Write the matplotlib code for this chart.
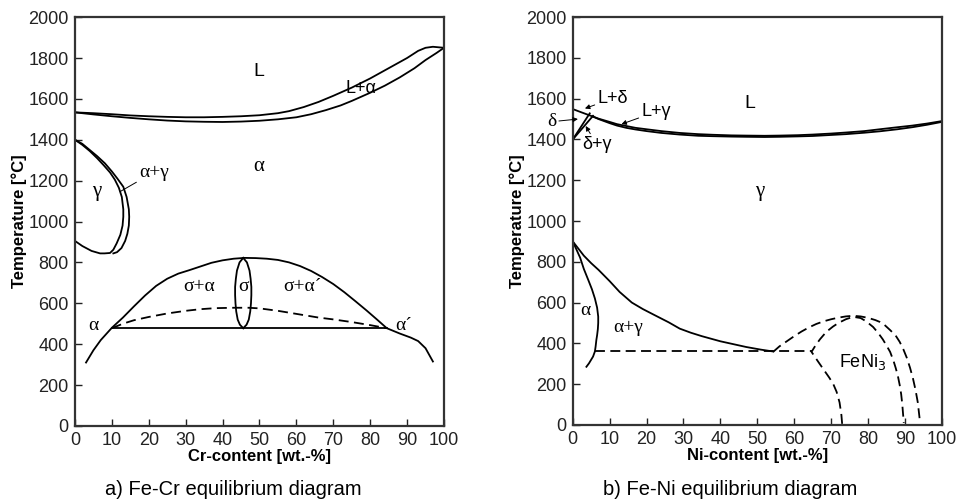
import matplotlib.pyplot as plt

plt.rcParams['font.family'] = ['Liberation Sans', 'DejaVu Sans']

# ---- Fe-Cr ----
cr_liq_x = [0, 5, 10, 15, 20, 25, 30, 35, 40, 45, 50, 55, 58, 62, 66, 70, 75, 80, 85, 90, 93, 95, 97, 100]
cr_liq_y = [1534, 1530, 1525, 1519, 1515, 1512, 1510, 1510, 1512, 1515, 1520, 1530, 1540, 1560, 1585,
            1615, 1655, 1700, 1750, 1800, 1835, 1850, 1855, 1850]
cr_sol_x = [0, 5, 10, 15, 20, 25, 30, 35, 40, 45, 50, 55, 60, 64, 68, 72, 75, 80, 84, 88, 92, 95, 98, 100]
cr_sol_y = [1534, 1524, 1515, 1507, 1500, 1494, 1490, 1488, 1487, 1489, 1493, 1500, 1510, 1525, 1545,
            1568, 1590, 1630, 1665, 1705, 1750, 1790, 1825, 1850]

cr_gam_in_x = [0, 2, 4, 6, 7.8, 9.5, 10.8, 11.9, 12.7, 13.1, 13.1, 12.9, 12.3, 11.3, 10.4, 9.5, 8, 6.8,
               4.5, 2, 0]
cr_gam_in_y = [1400, 1375, 1345, 1310, 1275, 1240, 1205, 1165, 1120, 1060, 1023, 980, 935, 893, 862,
               846, 844, 844, 856, 880, 905]
cr_gam_out_x = [0, 2, 4, 6, 8.1, 10, 11.5, 13.1, 14, 14.6, 14.7, 14.6, 14.2, 13.6, 12.6, 11.4, 10.4]
cr_gam_out_y = [1400, 1380, 1350, 1320, 1285, 1245, 1210, 1170, 1120, 1060, 1023, 980, 940, 905, 870,
                850, 844]

cr_dome_x = [3, 5, 7, 10, 13, 16, 19, 22, 25, 28, 31, 34, 37, 40, 43, 46, 49, 52, 55, 58, 61, 64, 67,
             70, 73, 76, 79, 82, 84.5, 88, 91, 93, 95, 97]
cr_dome_y = [310, 370, 420, 480, 530, 585, 638, 685, 720, 745, 762, 780, 798, 810, 818, 822, 821, 818,
             812, 800, 782, 758, 728, 694, 654, 610, 565, 518, 478, 452, 432, 415, 380, 315]
cr_eut_x = [10, 84.5]
cr_eut_y = [478, 478]
cr_spin_x = [10, 13, 16, 20, 25, 30, 34, 38, 43, 47, 50, 55, 61, 66, 70, 75, 80, 84.5]
cr_spin_y = [478, 500, 517, 533, 550, 563, 571, 576, 578, 578, 575, 563, 545, 530, 521, 508, 493, 478]
cr_sig_y = [822, 800, 760, 720, 680, 640, 600, 560, 520, 495, 478]
cr_sig_l_x = [45.6, 44.6, 43.9, 43.6, 43.4, 43.4, 43.5, 43.7, 44.1, 44.7, 45.6]
cr_sig_r_x = [45.6, 46.6, 47.3, 47.6, 47.8, 47.8, 47.7, 47.5, 47.1, 46.5, 45.6]

# ---- Fe-Ni ----
ni_liq_x = [0, 2.5, 4.6, 7, 10, 12, 14.5, 17, 20, 24, 29, 34, 38, 43, 47, 52, 56, 61, 65, 70, 74, 79,
            83.2, 88, 92, 96, 100]
ni_liq_y = [1549, 1532, 1518, 1502, 1486, 1475, 1466, 1457, 1450, 1441, 1432, 1426, 1423, 1420, 1419,
            1418, 1419, 1421, 1424, 1429, 1434, 1441, 1450, 1460, 1468, 1478, 1490]
ni_sol_x = [5.5, 7, 10, 12, 14.5, 17, 20, 24, 29, 34, 38, 43, 47, 52, 56, 61, 65, 70, 74, 79, 83.2, 88,
            92, 96, 100]
ni_sol_y = [1512, 1500, 1480, 1468, 1457, 1449, 1441, 1432, 1424, 1418, 1416, 1414, 1413, 1412, 1413,
            1415, 1417, 1422, 1426, 1433, 1440, 1450, 1460, 1472, 1486]
ni_d1_x = [0, 4.6]
ni_d1_y = [1400, 1528]
ni_d2_x = [0, 5.5]
ni_d2_y = [1400, 1516]

ni_gam_x = [0, 1.5, 3, 5, 7, 10, 12.7, 16, 19, 22, 26, 29, 32, 35, 40, 44, 47, 51, 54.3]
ni_gam_y = [900, 865, 830, 793, 760, 705, 652, 600, 568, 540, 503, 472, 452, 435, 410, 394, 382, 369, 360]
ni_alp_x = [0, 1, 2, 3, 4.2, 5.2, 6, 6.6, 6.9, 6.9, 6.8, 6.6, 6.4, 6.2, 6, 5.5, 5, 4.4, 3.7]
ni_alp_y = [900, 860, 820, 765, 711, 665, 620, 575, 531, 500, 470, 440, 417, 385, 360, 335, 320, 302, 285]
ni_eut_x = [6, 64.7]
ni_eut_y = [360, 360]
ni_out_x = [54.3, 56, 58, 60, 62, 64, 66, 68, 70, 72, 74, 76, 78, 80, 82, 83.2, 84.5, 86, 87.5, 88.6,
            89.6, 90.5, 91.4, 92.2, 92.9, 93.5, 94]
ni_out_y = [358, 385, 410, 435, 458, 478, 495, 508, 518, 526, 532, 535, 532, 525, 514, 505, 490, 465,
            438, 407, 370, 330, 280, 227, 170, 110, 30]
ni_in_x = [73, 72.8, 72.3, 71.5, 70.6, 69.5, 67.8, 66.5, 64.7, 65.8, 67, 68.7, 70.5, 72, 74, 76, 78,
           79.5, 81.4, 82.8, 84, 85, 86, 86.9, 87.5, 88.1, 88.6, 89, 89.3, 89.7]
ni_in_y = [5, 48, 110, 162, 200, 232, 276, 310, 358, 390, 420, 456, 482, 500, 518, 530, 524, 508, 480,
           450, 420, 390, 358, 315, 280, 240, 195, 150, 100, 10]

xticks = list(range(0, 101, 10))
yticks = list(range(0, 2001, 200))

fig = plt.figure(figsize=(9.61, 5.04), dpi=100)
ax1 = fig.add_axes([0.078, 0.155, 0.384, 0.811])
ax2 = fig.add_axes([0.596, 0.157, 0.384, 0.809])

lw = 1.3
dash = (0, (5.5, 3))
greek = ['Liberation Serif', 'DejaVu Serif']

for ax, xl in [(ax1, 'Cr-content [wt.-%]'), (ax2, 'Ni-content [wt.-%]')]:
    ax.set_xlim(0, 100)
    ax.set_ylim(0, 2000)
    ax.set_xticks(xticks)
    ax.set_yticks(yticks)
    ax.tick_params(direction='in', length=5, width=1, labelsize=13, colors='#222222', pad=4.5)
    for s in ax.spines.values():
        s.set_linewidth(1.6)
        s.set_color('#333333')
    ax.set_xlabel(xl, fontsize=12, fontweight='bold', labelpad=0)
    ax.set_ylabel('Temperature [°C]', fontsize=12, fontweight='bold', labelpad=1)

# Fe-Cr curves
ax1.plot(cr_liq_x, cr_liq_y, 'k', lw=lw)
ax1.plot(cr_sol_x, cr_sol_y, 'k', lw=lw)
ax1.plot(cr_gam_in_x, cr_gam_in_y, 'k', lw=lw)
ax1.plot(cr_gam_out_x, cr_gam_out_y, 'k', lw=lw)
ax1.plot(cr_dome_x, cr_dome_y, 'k', lw=lw)
ax1.plot(cr_eut_x, cr_eut_y, 'k', lw=lw)
ax1.plot(cr_spin_x, cr_spin_y, 'k', lw=lw, ls=dash)
ax1.plot(cr_sig_l_x, cr_sig_y, 'k', lw=lw)
ax1.plot(cr_sig_r_x, cr_sig_y, 'k', lw=lw)

ax1.text(49.7, 1733, 'L', fontsize=14, ha='center', va='center')
ax1.text(49.7, 1268, 'α', fontsize=15, ha='center', va='center', family=greek)
ax1.text(6, 1146, 'γ', fontsize=15, ha='center', va='center', family=greek)
ax1.text(77.5, 1650, 'L+α', fontsize=13, ha='center', va='center')
ax1.annotate('α+γ', xy=(12.2, 1146), xytext=(17.4, 1242), fontsize=14, va='center',
             family=greek, arrowprops=dict(arrowstyle='-', lw=0.7, shrinkA=0, shrinkB=0))
ax1.text(33.7, 680, 'σ+α', fontsize=14, ha='center', va='center', family=greek)
ax1.text(45.6, 680, 'σ', fontsize=14, ha='center', va='center', family=greek)
ax1.text(61.5, 680, 'σ+α´', fontsize=14, ha='center', va='center', family=greek)
ax1.text(5, 492, 'α', fontsize=14, ha='center', va='center', family=greek)
ax1.text(89, 492, 'α´', fontsize=14, ha='center', va='center', family=greek)

# Fe-Ni curves
ax2.plot(ni_liq_x, ni_liq_y, 'k', lw=lw)
ax2.plot(ni_sol_x, ni_sol_y, 'k', lw=lw)
ax2.plot(ni_d1_x, ni_d1_y, 'k', lw=lw)
ax2.plot(ni_d2_x, ni_d2_y, 'k', lw=lw)
ax2.plot(ni_gam_x, ni_gam_y, 'k', lw=lw)
ax2.plot(ni_alp_x, ni_alp_y, 'k', lw=lw)
ax2.plot(ni_eut_x, ni_eut_y, 'k', lw=lw, ls=dash)
ax2.plot(ni_out_x, ni_out_y, 'k', lw=lw, ls=dash)
ax2.plot(ni_in_x, ni_in_y, 'k', lw=lw, ls=dash)

ax2.text(48, 1577, 'L', fontsize=14, ha='center', va='center')
ax2.text(50.7, 1144, 'γ', fontsize=15, ha='center', va='center', family=greek)
ax2.text(3.4, 562, 'α', fontsize=14, ha='center', va='center', family=greek)
ax2.text(15, 480, 'α+γ', fontsize=14, ha='center', va='center', family=greek)
ax2.text(78.5, 309, 'FeNi$_3$', fontsize=13, ha='center', va='center')
arr = dict(arrowstyle='-|>', lw=0.7, color='k', mutation_scale=7, shrinkA=0, shrinkB=0)
ax2.annotate('L+δ', xy=(3.3, 1552), xytext=(6.7, 1601), fontsize=13, va='center', arrowprops=arr)
ax2.annotate('L+γ', xy=(13.2, 1475), xytext=(18.6, 1536), fontsize=13, va='center', arrowprops=arr)
ax2.annotate('δ+γ', xy=(3.5, 1466), xytext=(2.6, 1373), fontsize=13, va='center', arrowprops=arr)
ax2.annotate('δ', xy=(1.4, 1500), xytext=(-4.5, 1487), fontsize=14, ha='right', va='center',
             family=greek, arrowprops=arr, annotation_clip=False)

fig.text(0.243, 0.028, 'a) Fe-Cr equilibrium diagram', fontsize=14.5, ha='center', va='center')
fig.text(0.760, 0.028, 'b) Fe-Ni equilibrium diagram', fontsize=14.5, ha='center', va='center')

fig.savefig('out.png', dpi=100)
